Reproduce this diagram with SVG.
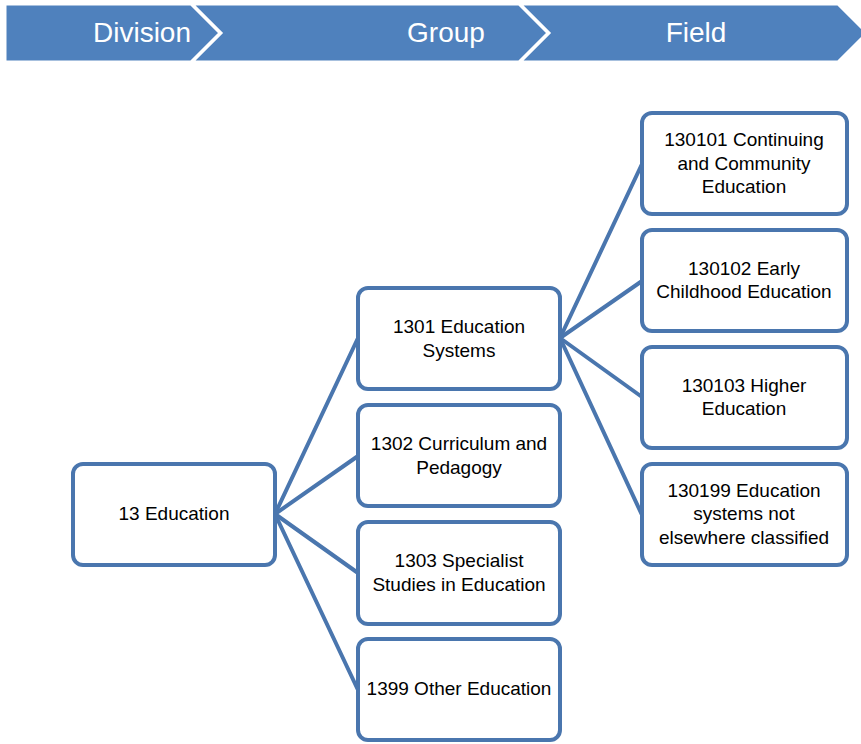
<svg xmlns="http://www.w3.org/2000/svg" width="861" height="744" viewBox="0 0 861 744">
<style>
.hdr{fill:#4F81BD;stroke:#FFFFFF;stroke-width:3;stroke-linejoin:miter}
.ht{font-family:"Liberation Sans",Arial,sans-serif;font-size:28px;fill:#FFFFFF;text-anchor:middle}
.box{fill:#FFFFFF;stroke:#4A76AE;stroke-width:4}
.t{font-family:"Liberation Sans",Arial,sans-serif;font-size:19px;fill:#000000;text-anchor:middle}
.con line{stroke:#4A76AE;stroke-width:4;stroke-linecap:round}
</style>
<g id="header">
<polygon class="hdr" points="5,4 191,4 220,33 191,62 5,62"/>
<polygon class="hdr" points="192,4 519,4 548,33 519,62 192,62 221,33"/>
<polygon class="hdr" points="520,4 838,4 867,33 838,62 520,62 549,33"/>
<text class="ht" x="142" y="42">Division</text>
<text class="ht" x="446" y="42">Group</text>
<text class="ht" x="696" y="42">Field</text>
</g>
<g class="con" id="connectors">
<line x1="275" y1="514" x2="358" y2="338"/>
<line x1="275" y1="514" x2="358" y2="456"/>
<line x1="275" y1="514" x2="358" y2="573"/>
<line x1="275" y1="514" x2="358" y2="690"/>
<line x1="560" y1="338" x2="642" y2="164"/>
<line x1="560" y1="338" x2="642" y2="281"/>
<line x1="560" y1="338" x2="642" y2="397"/>
<line x1="560" y1="338" x2="642" y2="515"/>
</g>
<g id="n13">
<rect class="box" x="73" y="464" width="202" height="101" rx="10"/>
<text class="t" x="174" y="520">13 Education</text>
</g>
<g id="n1301">
<rect class="box" x="358" y="288" width="202" height="101" rx="10"/>
<text class="t" x="459" y="333">1301 Education</text>
<text class="t" x="459" y="357">Systems</text>
</g>
<g id="n1302">
<rect class="box" x="358" y="405" width="202" height="101" rx="10"/>
<text class="t" x="459" y="450">1302 Curriculum and</text>
<text class="t" x="459" y="474">Pedagogy</text>
</g>
<g id="n1303">
<rect class="box" x="358" y="522" width="202" height="102" rx="10"/>
<text class="t" x="459" y="567">1303 Specialist</text>
<text class="t" x="459" y="591">Studies in Education</text>
</g>
<g id="n1399">
<rect class="box" x="358" y="639" width="202" height="101" rx="10"/>
<text class="t" x="459" y="695">1399 Other Education</text>
</g>
<g id="n130101">
<rect class="box" x="642" y="113" width="205" height="101" rx="10"/>
<text class="t" x="744" y="146">130101 Continuing</text>
<text class="t" x="744" y="170">and Community</text>
<text class="t" x="744" y="193">Education</text>
</g>
<g id="n130102">
<rect class="box" x="642" y="230" width="205" height="101" rx="10"/>
<text class="t" x="744" y="275">130102 Early</text>
<text class="t" x="744" y="298">Childhood Education</text>
</g>
<g id="n130103">
<rect class="box" x="642" y="347" width="205" height="101" rx="10"/>
<text class="t" x="744" y="392">130103 Higher</text>
<text class="t" x="744" y="415">Education</text>
</g>
<g id="n130199">
<rect class="box" x="642" y="464" width="205" height="101" rx="10"/>
<text class="t" x="744" y="497">130199 Education</text>
<text class="t" x="744" y="520">systems not</text>
<text class="t" x="744" y="544">elsewhere classified</text>
</g>
</svg>
